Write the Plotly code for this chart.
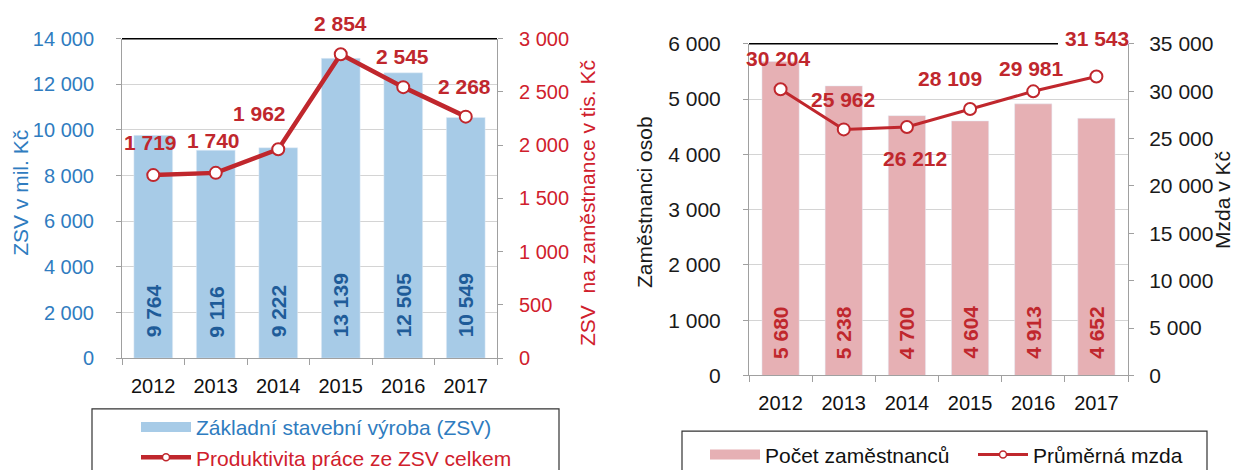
import plotly.graph_objects as go

# ---------------- data ----------------
years = ["2012", "2013", "2014", "2015", "2016", "2017"]
zsv_mil = [9764, 9116, 9222, 13139, 12505, 10549]
productivity = [1719, 1740, 1962, 2854, 2545, 2268]
employees = [5680, 5238, 4700, 4604, 4913, 4652]
avg_wage = [30204, 25962, 26212, 28109, 29981, 31543]

left_ticks = [0, 2000, 4000, 6000, 8000, 10000, 12000, 14000]
right_ticks_a = [0, 500, 1000, 1500, 2000, 2500, 3000]
emp_ticks = [0, 1000, 2000, 3000, 4000, 5000, 6000]
wage_ticks = [0, 5000, 10000, 15000, 20000, 25000, 30000, 35000]

# label offsets (px) for line value labels: (xshift, yshift)
prod_shift = [(-3, 32), (-2, 31), (-19, 35), (0, 30), (-1, 30), (-1, 29)]
wage_shift = [(-2, 30), (-1, 29), (8, -30), (-20, 30), (-2, 22), (1, 37)]


def fmt(v):
    return f"{v:,}".replace(",", " ")


pos = list(range(len(years)))            # category index positions
bounds = [p - 0.5 for p in pos] + [pos[-1] + 0.5]

FONT = "Liberation Sans, Arial, sans-serif"
BLUE_BAR = "#A7CBE7"
BLUE_TXT = "#2F7CC0"
BLUE_LBL = "#1F5C99"
RED_LINE = "#C0272D"
RED_TXT = "#D0202C"
PINK_BAR = "#E6B0B4"
GRID = "#D4D4D4"
AXIS = "#A0A0A0"
DARK = "#1a1a1a"

W, H = 1242, 470
PAGE_OFF = 8            # default page margin around the figure
K = H / (H + 2 * PAGE_OFF)   # vertical fit of the page into the picture


def fx(px):
    """paper x fraction for a target picture x"""
    return (px - PAGE_OFF) / W


def fy(py):
    """paper y fraction for a target picture y"""
    return 1 - (py / K - PAGE_OFF) / H


def sy(d):
    return d / K


L_dom_x = [fx(122), fx(497)]
L_dom_y = [fy(353), fy(38)]
R_dom_x = [fx(749), fx(1128)]
R_dom_y = [fy(370), fy(43)]

fig = go.Figure()

# ---- left chart ----
fig.add_trace(go.Bar(x=pos, y=zsv_mil, width=0.62, marker_color=BLUE_BAR, xaxis="x", yaxis="y",
                     showlegend=False, hoverinfo="skip"))
fig.add_trace(go.Scatter(x=pos, y=productivity, mode="lines+markers", xaxis="x", yaxis="y2",
                         line=dict(color=RED_LINE, width=4.5),
                         marker=dict(size=12, color="white", line=dict(color=RED_LINE, width=2)),
                         showlegend=False, hoverinfo="skip"))
# legend entries
fig.add_trace(go.Scatter(x=[None], y=[None], mode="lines", xaxis="x", yaxis="y",
                         line=dict(color=BLUE_BAR, width=10),
                         name=f'<span style="color:{BLUE_TXT}">Základní stavební výroba (ZSV)</span>',
                         legend="legend", legendgroup="a"))
fig.add_trace(go.Scatter(x=[None], y=[None], mode="lines+markers", xaxis="x", yaxis="y2",
                         line=dict(color=RED_LINE, width=4.5),
                         marker=dict(size=7, color="white", line=dict(color=RED_LINE, width=1.5)),
                         name=f'<span style="color:{RED_TXT}">Produktivita práce ze ZSV celkem</span>',
                         legend="legend", legendgroup="b"))

# ---- right chart ----
fig.add_trace(go.Bar(x=pos, y=employees, width=0.59, marker_color=PINK_BAR, xaxis="x2", yaxis="y3",
                     showlegend=False, hoverinfo="skip"))
fig.add_trace(go.Scatter(x=pos, y=avg_wage, mode="lines+markers", xaxis="x2", yaxis="y4",
                         line=dict(color=RED_LINE, width=3),
                         marker=dict(size=12, color="white", line=dict(color=RED_LINE, width=2)),
                         showlegend=False, hoverinfo="skip"))
fig.add_trace(go.Scatter(x=[None], y=[None], mode="lines", xaxis="x2", yaxis="y3",
                         line=dict(color=PINK_BAR, width=10),
                         name="Počet zaměstnanců", legend="legend2"))
fig.add_trace(go.Scatter(x=[None], y=[None], mode="lines+markers", xaxis="x2", yaxis="y4",
                         line=dict(color=RED_LINE, width=3),
                         marker=dict(size=7, color="white", line=dict(color=RED_LINE, width=1.5)),
                         name="Průměrná mzda", legend="legend2"))

annotations = []
# bar labels
for p, v in zip(pos, zsv_mil):
    annotations.append(dict(x=p, y=0, xref="x", yref="y", text=f"<b>{fmt(v)}</b>",
                            textangle=-90, showarrow=False, yanchor="bottom", xanchor="center",
                            yshift=sy(18), font=dict(family=FONT, size=21, color=BLUE_LBL)))
for p, v in zip(pos, employees):
    annotations.append(dict(x=p, y=0, xref="x2", yref="y3", text=f"<b>{fmt(v)}</b>",
                            textangle=-90, showarrow=False, yanchor="bottom", xanchor="center",
                            yshift=sy(14), font=dict(family=FONT, size=21, color=RED_LINE)))
# line labels
for p, v, (dx, dy) in zip(pos, productivity, prod_shift):
    annotations.append(dict(x=p, y=v, xref="x", yref="y2", text=f"<b>{fmt(v)}</b>",
                            showarrow=False, xshift=dx, yshift=sy(dy),
                            font=dict(family=FONT, size=21, color=RED_LINE)))
for p, v, (dx, dy) in zip(pos, avg_wage, wage_shift):
    annotations.append(dict(x=p, y=v, xref="x2", yref="y4", text=f"<b>{fmt(v)}</b>",
                            showarrow=False, xshift=dx, yshift=sy(dy),
                            font=dict(family=FONT, size=21, color=RED_LINE)))
# axis titles
title_common = dict(xref="paper", yref="paper", textangle=-90, showarrow=False,
                    xanchor="center", yanchor="middle")
annotations += [
    dict(x=fx(21), y=fy(190), text="ZSV v mil. Kč",
         font=dict(family=FONT, size=21, color=BLUE_TXT), **title_common),
    dict(x=fx(587), y=fy(200), text="ZSV  na zaměstnance v tis. Kč",
         font=dict(family=FONT, size=21, color=RED_TXT), **title_common),
    dict(x=fx(645), y=fy(199), text="Zaměstnanci osob",
         font=dict(family=FONT, size=21, color=DARK), **title_common),
    dict(x=fx(1223), y=fy(197), text="Mzda v Kč",
         font=dict(family=FONT, size=21, color=DARK), **title_common),
]

shapes = [
    dict(type="line", xref="x domain", yref="y domain", x0=0, x1=1, y0=1, y1=1,
         line=dict(color="black", width=1.5)),
    dict(type="line", xref="x2 domain", yref="y3 domain", x0=0, x1=(1058 - 749) / 379, y0=1, y1=1,
         line=dict(color="black", width=1.5)),
    dict(type="rect", xref="paper", yref="paper", x0=fx(92), x1=fx(559), y0=-0.05, y1=fy(403),
         line=dict(color="#333333", width=1.2)),
    dict(type="rect", xref="paper", yref="paper", x0=fx(682), x1=fx(1207), y0=-0.05, y1=fy(425),
         line=dict(color="#333333", width=1.2)),
]

xcommon = dict(type="linear", range=[-0.5, len(years) - 0.5], tickvals=pos, ticktext=years,
               ticks="", showline=True, linecolor=AXIS, linewidth=1, showgrid=False, zeroline=False,
               minor=dict(tickvals=bounds, ticks="outside", ticklen=6, tickcolor=AXIS, showgrid=False),
               tickfont=dict(family=FONT, size=20, color="#111111"), ticklabelstandoff=10,
               automargin=False)
ycommon = dict(ticks="outside", ticklen=5, tickcolor=AXIS, showline=True, linecolor=AXIS,
               linewidth=1, zeroline=False, tickformat=",d", automargin=False)

fig.update_layout(
    width=W, height=H, margin=dict(l=0, r=0, t=0, b=0),
    paper_bgcolor="white", plot_bgcolor="white",
    separators=". ",
    font=dict(family=FONT),
    xaxis=dict(domain=L_dom_x, anchor="y", **xcommon),
    yaxis=dict(domain=L_dom_y, anchor="x", range=[0, 14000], tickvals=left_ticks,
               showgrid=True, gridcolor=GRID, gridwidth=1, ticklabelstandoff=18,
               tickfont=dict(family=FONT, size=20, color=BLUE_TXT), **ycommon),
    yaxis2=dict(overlaying="y", side="right", anchor="x", range=[0, 3000], tickvals=right_ticks_a,
                showgrid=False, ticklabelstandoff=12,
                tickfont=dict(family=FONT, size=20, color=RED_TXT), **ycommon),
    xaxis2=dict(domain=R_dom_x, anchor="y3", **xcommon),
    yaxis3=dict(domain=R_dom_y, anchor="x2", range=[0, 6000], tickvals=emp_ticks,
                showgrid=True, gridcolor=GRID, gridwidth=1, ticklabelstandoff=18,
                tickfont=dict(family=FONT, size=21, color=DARK), **ycommon),
    yaxis4=dict(overlaying="y3", side="right", anchor="x2", range=[0, 35000], tickvals=wage_ticks,
                showgrid=False, ticklabelstandoff=11,
                tickfont=dict(family=FONT, size=21, color=DARK), **ycommon),
    legend=dict(x=fx(136), y=fy(401), xanchor="left", yanchor="top", orientation="v",
                bgcolor="rgba(0,0,0,0)", itemwidth=50, tracegroupgap=0, traceorder="grouped",
                font=dict(family=FONT, size=21)),
    legend2=dict(x=fx(705), y=fy(428), xanchor="left", yanchor="top", orientation="h",
                 bgcolor="rgba(0,0,0,0)", itemwidth=50, entrywidth=203,
                 font=dict(family=FONT, size=21, color="#111111")),
    annotations=annotations,
    shapes=shapes,
)

fig.write_html("out.html", config={"displayModeBar": False})
